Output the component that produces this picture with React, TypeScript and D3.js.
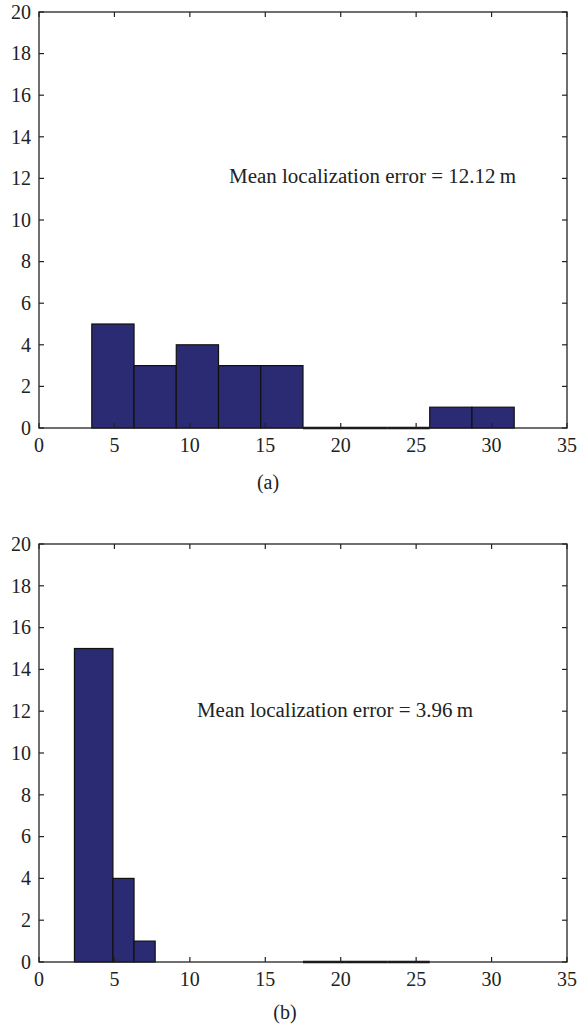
import React from "react";
import * as d3 from "d3";

// Histogram (a): bin edges and counts of localization errors (m)
const edgesA = [3.5, 6.3, 9.1, 11.9, 14.7, 17.5, 20.3, 23.1, 25.9, 28.7, 31.5];
const countsA = [5, 3, 4, 3, 3, 0, 0, 0, 1, 1];
const meanA = "12.12";

// Histogram (b): bar start/end positions and counts
const startsB = [2.35, 4.9, 6.3, 17.5, 20.3, 23.1];
const endsB = [4.9, 6.3, 7.7, 20.3, 23.1, 25.9];
const countsB = [15, 4, 1, 0, 0, 0];
const meanB = "3.96";

const xTicks = [0, 5, 10, 15, 20, 25, 30, 35];
const yTicks = [0, 2, 4, 6, 8, 10, 12, 14, 16, 18, 20];

const FONT = "'Liberation Serif', 'Times New Roman', serif";
const BAR = "#2a2b72";

type Bin = { x0: number; x1: number; n: number };

function Panel({
  bins,
  top,
  bottom,
  label,
  mean,
  textX,
  textY,
  textLen,
  capY,
  capX,
}: {
  bins: Bin[];
  top: number;
  bottom: number;
  label: string;
  mean: string;
  textX: number;
  textY: number;
  textLen: number;
  capY: number;
  capX: number;
}) {
  const left = 39;
  const right = 567;
  const x = d3.scaleLinear().domain([0, 35]).range([left, right]);
  const y = d3.scaleLinear().domain([0, 20]).range([bottom, top]);
  const tl = 5;
  return (
    <g>
      {bins.map((b, i) =>
        b.n > 0 ? (
          <rect
            key={i}
            x={x(b.x0)}
            y={y(b.n)}
            width={x(b.x1) - x(b.x0)}
            height={y(0) - y(b.n)}
            fill={BAR}
            stroke="#111"
            strokeWidth={1.2}
          />
        ) : (
          <line
            key={i}
            x1={x(b.x0)}
            x2={x(b.x1)}
            y1={y(0)}
            y2={y(0)}
            stroke="#111"
            strokeWidth={2.4}
          />
        )
      )}
      {/* frame */}
      <rect
        x={left}
        y={top}
        width={right - left}
        height={bottom - top}
        fill="none"
        stroke="#222"
        strokeWidth={1.3}
      />
      {xTicks.map((t) => (
        <g key={"x" + t}>
          <line x1={x(t)} x2={x(t)} y1={bottom} y2={bottom - tl} stroke="#222" strokeWidth={1.2} />
          <line x1={x(t)} x2={x(t)} y1={top} y2={top + tl} stroke="#222" strokeWidth={1.2} />
          <text
            x={x(t)}
            y={bottom + 24}
            textAnchor="middle"
            fontFamily={FONT}
            fontSize={20}
            fill="#222"
          >
            {t}
          </text>
        </g>
      ))}
      {yTicks.map((t) => (
        <g key={"y" + t}>
          <line x1={left} x2={left + tl} y1={y(t)} y2={y(t)} stroke="#222" strokeWidth={1.2} />
          <line x1={right} x2={right - tl} y1={y(t)} y2={y(t)} stroke="#222" strokeWidth={1.2} />
          <text
            x={31}
            y={y(t)}
            dy="0.34em"
            textAnchor="end"
            fontFamily={FONT}
            fontSize={20}
            fill="#222"
          >
            {t}
          </text>
        </g>
      ))}
      <text
        x={textX}
        y={textY}
        fontFamily={FONT}
        fontSize={20}
        fill="#222"
        textLength={textLen}
        lengthAdjust="spacingAndGlyphs"
      >
        {`Mean localization error = ${mean}\u2009m`}
      </text>
      <text x={capX} y={capY} textAnchor="middle" fontFamily={FONT} fontSize={20} fill="#222">
        {label}
      </text>
    </g>
  );
}

export default function App() {
  const binsA: Bin[] = countsA.map((n, i) => ({ x0: edgesA[i], x1: edgesA[i + 1], n }));
  const binsB: Bin[] = countsB.map((n, i) => ({ x0: startsB[i], x1: endsB[i], n }));
  return (
    <svg
      width={578}
      height={1028}
      style={{ position: "absolute", left: 0, top: 0, background: "#fff" }}
    >
      <rect width={578} height={1028} fill="#fff" />
      <Panel
        bins={binsA}
        top={12}
        bottom={428}
        label="(a)"
        mean={meanA}
        textX={229}
        textY={183}
        textLen={287}
        capX={268}
        capY={489}
      />
      <Panel
        bins={binsB}
        top={544}
        bottom={962}
        label="(b)"
        mean={meanB}
        textX={197}
        textY={717}
        textLen={276}
        capX={285}
        capY={1019}
      />
    </svg>
  );
}
